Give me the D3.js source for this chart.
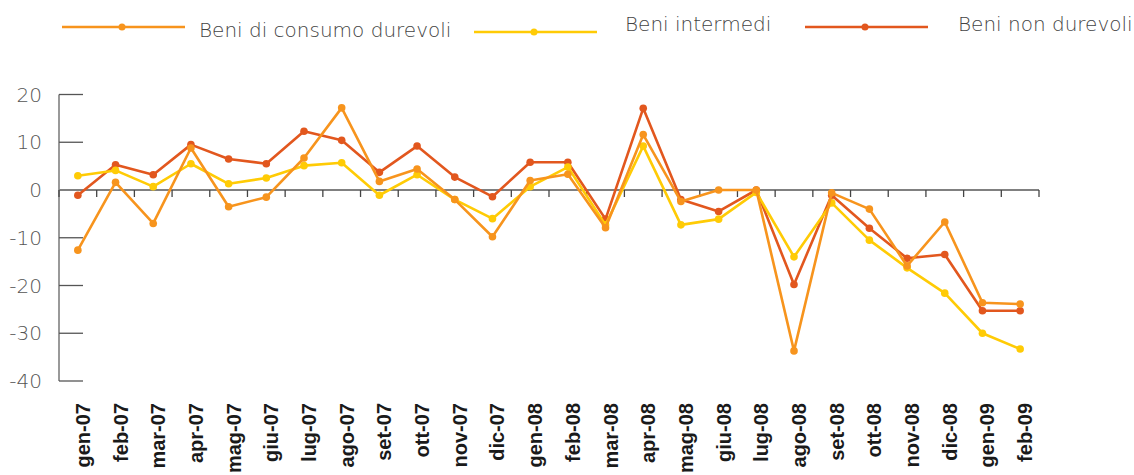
<!DOCTYPE html>
<html>
<head>
<meta charset="utf-8">
<script src="https://cdn.jsdelivr.net/npm/d3@7"></script>
<style>
body{margin:0;background:#fff;}
</style>
</head>
<body>
<div></div>
<script>
let months = ["gen-07","feb-07","mar-07","apr-07","mag-07","giu-07","lug-07","ago-07","set-07","ott-07","nov-07","dic-07",
  "gen-08","feb-08","mar-08","apr-08","mag-08","giu-08","lug-08","ago-08","set-08","ott-08","nov-08","dic-08","gen-09","feb-09"];
let durevoli = [-12.6,1.6,-7.0,8.8,-3.5,-1.5,6.7,17.2,1.8,4.4,-2.0,-9.8,2.0,3.3,-7.9,11.6,-2.4,0,0,-33.7,-0.6,-4.0,-15.9,-6.7,-23.6,-23.9];
let intermedi = [3.0,4.1,0.7,5.5,1.3,2.5,5.1,5.7,-1.1,3.2,-2.0,-6.0,0.7,4.8,-7.3,9.2,-7.3,-6.1,-0.5,-14.0,-2.7,-10.5,-16.3,-21.6,-30.0,-33.3];
let nonDurevoli = [-1.1,5.3,3.2,9.5,6.5,5.5,12.3,10.4,3.7,9.2,2.7,-1.4,5.8,5.8,-6.1,17.1,-2.0,-4.5,0,-19.8,-1.1,-8.0,-14.3,-13.5,-25.3,-25.3];
let yTicks = [20,10,0,-10,-20,-30,-40];
let seriesNames = ["Beni di consumo durevoli","Beni intermedi","Beni non durevoli"];
let seriesColors = ["#f7941d","#ffcb05","#e2571e"];

let svgWidth = 1134;
let svgHeight = 475;
let svg = d3.select("body div")
    .append("svg")
    .attr("width", svgWidth)
    .attr("height", svgHeight)
    .style("font-family","'DejaVu Sans',sans-serif");

let x = d3.scaleBand().domain(months).range([59,1039]);
let y = d3.scaleLinear().domain([-40,20]).range([381,94.5]);

// asse y
svg.append("line")
    .attr("x1",59).attr("x2",59)
    .attr("y1",y(20)).attr("y2",y(-40))
    .attr("stroke","#777").attr("stroke-width",1.5);
let yt = svg.append("g");
yTicks.forEach(function(t){
    if(t!=0){
        yt.append("line")
            .attr("x1",59).attr("x2",83)
            .attr("y1",y(t)).attr("y2",y(t))
            .attr("stroke","#555").attr("stroke-width",1.3);
    }
    yt.append("text")
        .attr("x",42).attr("y",y(t)+7)
        .attr("text-anchor","end")
        .attr("font-size",20)
        .attr("font-weight",300)
        .attr("fill","#555")
        .text(t<0 ? "-"+Math.abs(t) : t);
});

// asse x sullo zero
svg.append("line")
    .attr("x1",59).attr("x2",1039)
    .attr("y1",y(0)).attr("y2",y(0))
    .attr("stroke","#808080").attr("stroke-width",2);
months.forEach(function(m,i){
    svg.append("line")
        .attr("x1",x(m)+x.bandwidth()).attr("x2",x(m)+x.bandwidth())
        .attr("y1",y(0)).attr("y2",y(0)+7)
        .attr("stroke","#444").attr("stroke-width",1.3);
});
svg.append("line")
    .attr("x1",59).attr("x2",59)
    .attr("y1",y(0)).attr("y2",y(0)+7)
    .attr("stroke","#444").attr("stroke-width",1.3);

// etichette mesi
months.forEach(function(m){
    let cx = x(m)+x.bandwidth()/2;
    svg.append("text")
        .attr("transform","translate("+(cx+12)+",403) rotate(-90)")
        .attr("text-anchor","end")
        .attr("font-family","'Liberation Sans',Arial,sans-serif")
        .attr("font-weight","bold")
        .attr("font-size",20)
        .attr("fill","#1a1a1a")
        .text(m);
});

// linee
let allSeries = [durevoli,intermedi,nonDurevoli];
let line = d3.line()
    .x(function(d,i){return x(months[i])+x.bandwidth()/2;})
    .y(function(d){return y(d);});
[2,1,0].forEach(function(k){
    let g = svg.append("g");
    g.append("path")
        .datum(allSeries[k])
        .attr("d",line)
        .attr("fill","none")
        .attr("stroke",seriesColors[k])
        .attr("stroke-width",2.6)
        .attr("stroke-linejoin","round");
    g.selectAll("circle")
        .data(allSeries[k])
        .enter().append("circle")
        .attr("cx",function(d,i){return x(months[i])+x.bandwidth()/2;})
        .attr("cy",function(d){return y(d);})
        .attr("r",3.8)
        .attr("fill",seriesColors[k]);
});

// legenda
let legendX = [62,474,805];
let legendY = [27,32,27];
let legendTextX = [199,625,958];
let legendTextY = [37,31,31];
for(let k=0;k<3;k++){
    svg.append("line")
        .attr("x1",legendX[k]).attr("x2",legendX[k]+123)
        .attr("y1",legendY[k]).attr("y2",legendY[k])
        .attr("stroke",seriesColors[k]).attr("stroke-width",2.6);
    svg.append("circle")
        .attr("cx",legendX[k]+60).attr("cy",legendY[k])
        .attr("r",3.5).attr("fill",seriesColors[k]);
    svg.append("text")
        .attr("x",legendTextX[k]).attr("y",legendTextY[k])
        .attr("font-size",20)
        .attr("font-weight",300)
        .attr("fill","#444")
        .text(seriesNames[k]);
}
</script>
</body>
</html>
